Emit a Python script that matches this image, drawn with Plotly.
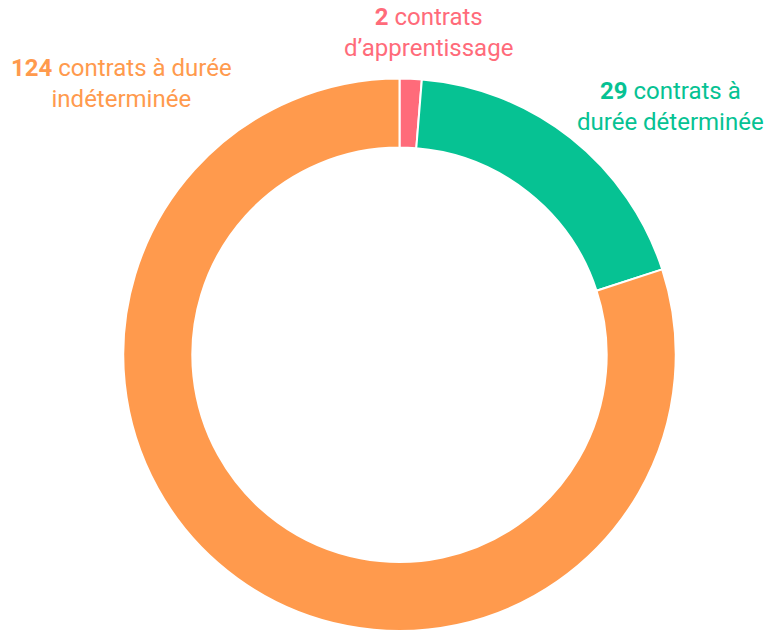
import plotly.graph_objects as go

labels = ["contrats d’apprentissage", "contrats à durée déterminée", "contrats à durée indéterminée"]
values = [2, 29, 124]
colors = ["#ff6b7a", "#06c293", "#ff9a4d"]
label_texts = [
    "<b>2</b> contrats<br>d’apprentissage",
    "<b>29</b> contrats à<br>durée déterminée",
    "<b>124</b> contrats à durée<br>indéterminée",
]
# label centers in screen pixels
label_pos = [(428, 33), (670, 106), (121.5, 83)]

W, H = 780, 631
cx, cy, r = 399.5, 355.5, 277

fig = go.Figure(go.Pie(
    labels=labels,
    values=values,
    marker=dict(colors=colors, line=dict(color="white", width=2)),
    hole=0.75,
    sort=False,
    direction="clockwise",
    rotation=0,
    textinfo="none",
    hoverinfo="label+value",
    showlegend=False,
    domain=dict(x=[(cx - r) / W, (cx + r) / W],
                y=[max(0, 1 - (cy + r) / H), 1 - (cy - r) / H]),
))

for txt, (x, y), c in zip(label_texts, label_pos, colors):
    fig.add_annotation(
        x=x / W, y=1 - y / H, xref="paper", yref="paper",
        text=txt, showarrow=False, xanchor="center", yanchor="middle",
        align="center", font=dict(family="Roboto", size=24, color=c),
    )

fig.update_layout(
    width=W, height=H,
    margin=dict(l=0, r=0, t=0, b=0),
    paper_bgcolor="white", plot_bgcolor="white",
)

fig.write_html(
    "out.html",
    config={"displayModeBar": False},
    post_script="document.body.style.margin='0';document.body.style.overflow='hidden';",
)
